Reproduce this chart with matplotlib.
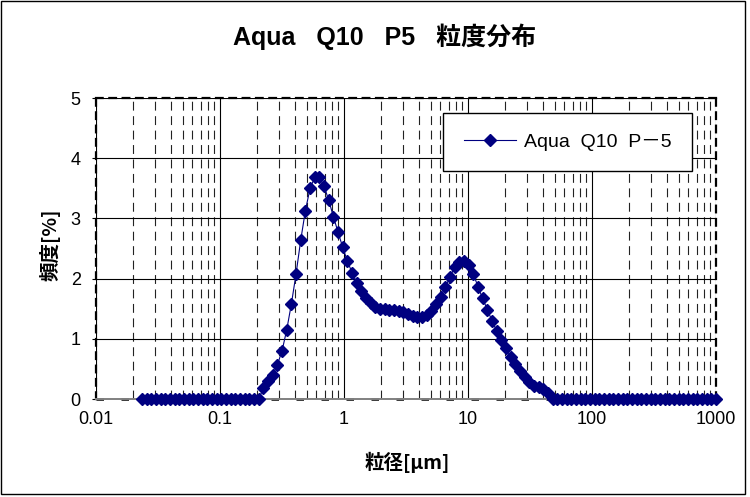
import matplotlib
matplotlib.use("Agg")
import matplotlib.pyplot as plt
from matplotlib.patches import Rectangle
from matplotlib.ticker import FixedLocator, FixedFormatter, LogLocator, NullFormatter

plt.rcParams['font.family'] = ['Liberation Sans', 'Noto Sans CJK JP', 'DejaVu Sans']

# particle size channels [um]
sizes = [
    0.02353, 0.02566, 0.02798, 0.03052,
    0.03328, 0.03629, 0.03958, 0.04316, 0.04706, 0.05132, 0.05597, 0.06104,
    0.06656, 0.07258, 0.07915, 0.08632, 0.09413, 0.1026, 0.1119, 0.1221,
    0.1331, 0.1452, 0.1583, 0.1726, 0.1883, 0.2053, 0.2239, 0.2441,
    0.2662, 0.2903, 0.3166, 0.3453, 0.3765, 0.4106, 0.4478, 0.4883,
    0.5325, 0.5807, 0.6332, 0.6905, 0.7530, 0.8212, 0.8955, 0.9766,
    1.065, 1.161, 1.266, 1.381, 1.506, 1.642, 1.791, 1.953,
    2.130, 2.323, 2.533, 2.762, 3.012, 3.285, 3.582, 3.906,
    4.260, 4.645, 5.066, 5.524, 6.024, 6.570, 7.164, 7.813,
    8.520, 9.291, 10.13, 11.05, 12.05, 13.14, 14.33, 15.63,
    17.04, 18.58, 20.26, 22.10, 24.10, 26.28, 28.66, 31.25,
    34.08, 37.16, 40.53, 44.19, 48.19, 52.56, 57.31, 62.5,
    68.16, 74.33, 81.05, 88.39, 96.39, 105.1, 114.6, 125.0,
    136.3, 148.7, 162.1, 176.8, 192.8, 210.2, 229.3, 250.0,
    272.6, 297.3, 324.2, 353.6, 385.6, 420.4, 458.5, 500.0,
    545.3, 594.6, 648.4, 707.1, 771.1, 840.9, 917.0, 1000.0,
]

# frequency [%]
freq = [
    0.0, 0.0, 0.0, 0.0, 0.0, 0.0, 0.0, 0.0, 0.0, 0.0,
    0.0, 0.0, 0.0, 0.0, 0.0, 0.0, 0.0, 0.0, 0.0, 0.0,
    0.0, 0.0, 0.0, 0.0, 0.0, 0.0,
    0.18, 0.30, 0.40, 0.57, 0.80, 1.15, 1.58, 2.08, 2.64, 3.13,
    3.50, 3.68, 3.68, 3.54, 3.30, 3.03, 2.77, 2.52, 2.29, 2.10,
    1.93, 1.79, 1.67, 1.59, 1.53, 1.50, 1.49, 1.48, 1.48, 1.46,
    1.44, 1.41, 1.38, 1.36, 1.37, 1.40, 1.46, 1.57, 1.70, 1.86,
    2.03, 2.19, 2.28, 2.30, 2.23, 2.08, 1.86, 1.67, 1.48, 1.30,
    1.13, 0.98, 0.84, 0.70, 0.58, 0.46, 0.37, 0.29, 0.22, 0.20,
    0.17, 0.10,
    0.0, 0.0, 0.0, 0.0, 0.0, 0.0, 0.0, 0.0, 0.0, 0.0,
    0.0, 0.0, 0.0, 0.0, 0.0, 0.0, 0.0, 0.0, 0.0, 0.0,
    0.0, 0.0, 0.0, 0.0, 0.0, 0.0, 0.0, 0.0, 0.0, 0.0,
    0.0, 0.0, 0.0, 0.0, 0.0, 0.0,
]

x_ticks = [0.01, 0.1, 1, 10, 100, 1000]
x_tick_labels = ['0.01', '0.1', '1', '10', '100', '1000']
y_ticks = [0, 1, 2, 3, 4, 5]
y_tick_labels = ['0', '1', '2', '3', '4', '5']

title = 'Aqua   Q10   P5   粒度分布'
series_name = 'Aqua  Q10  P－5'
xlabel = '粒径[μm]'
ylabel = '頻度[%]'

fig = plt.figure(figsize=(7.5, 4.97), dpi=100)
fig.patches.append(Rectangle((1/750, 3/497), 744/750, 493/497, transform=fig.transFigure,
                             fill=False, ec='black', lw=1.0))
ax = fig.add_axes([96/750, 1 - 399/497, 620/750, 301/497])

ax.set_xscale('log')
ax.set_xlim(0.01, 1000)
ax.set_ylim(0, 5)

ax.xaxis.set_major_locator(FixedLocator(x_ticks))
ax.xaxis.set_major_formatter(FixedFormatter(x_tick_labels))
ax.xaxis.set_minor_locator(LogLocator(base=10, subs=range(2, 10)))
ax.xaxis.set_minor_formatter(NullFormatter())
ax.yaxis.set_major_locator(FixedLocator(y_ticks))
ax.yaxis.set_major_formatter(FixedFormatter(y_tick_labels))

ax.grid(True, which='major', axis='both', color='black', lw=0.8, ls='-')
ax.grid(True, which='minor', axis='x', color='#222222', lw=0.8, ls=(0, (8, 5)))
ax.set_axisbelow(True)

ax.tick_params(axis='x', which='both', length=0, pad=9, labelsize=13)
ax.tick_params(axis='y', which='major', length=3, direction='out', pad=8, labelsize=13)

for side in ['top', 'left', 'right']:
    ax.spines[side].set_linestyle((0, (3, 3)))
    ax.spines[side].set_linewidth(1.6)
    ax.spines[side].set_color('black')
ax.spines['bottom'].set_color('#808080')
ax.spines['bottom'].set_linewidth(1.4)
ax.axhline(0, color='black', lw=1.8, ls=(0, (3, 7)), zorder=1.5, clip_on=False)

ax.plot(sizes, freq, color='#000080', lw=0.8, marker='D', markersize=6,
        markerfacecolor='#000080', markeredgecolor='#000080', label=series_name,
        clip_on=False, zorder=3)

fig.text(385/750, 1 - 37/497, title, ha='center', va='center', fontsize=18, fontweight='bold')
fig.text(407/750, 1 - 462/497, xlabel, ha='center', va='center', fontsize=14, fontweight='bold',
         family=['Noto Sans CJK JP', 'DejaVu Sans'])
fig.text(50/750, 1 - 245/497, ylabel, ha='center', va='center', fontsize=14, fontweight='bold',
         rotation=90, family=['Noto Sans CJK JP', 'DejaVu Sans'])

leg = ax.legend(loc='upper right', bbox_to_anchor=((692 - 96)/620, (399 - 113)/301),
                fontsize=14, frameon=True, fancybox=False, framealpha=1, edgecolor='black',
                handlelength=2.7, handletextpad=0.4, borderpad=1.05, borderaxespad=0)
leg.get_frame().set_linewidth(1.0)

fig.savefig('out.png', dpi=100)
